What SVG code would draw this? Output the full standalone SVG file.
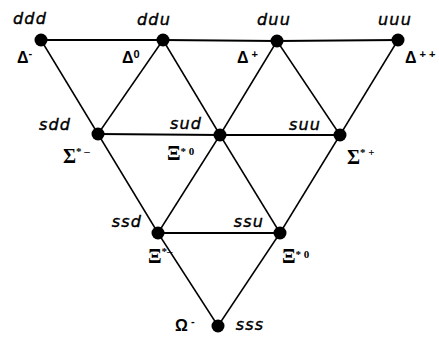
<svg xmlns="http://www.w3.org/2000/svg" width="439" height="343" viewBox="0 0 439 343">
<style>
.q{font-family:"DejaVu Sans",sans-serif;font-style:italic;font-size:16px;letter-spacing:1.2px;fill:#000;stroke:#000;stroke-width:0.4}
.g{font-family:"Liberation Sans",sans-serif;font-weight:bold;font-size:16px;fill:#000}
.s{font-family:"Liberation Serif",serif;font-weight:bold;font-size:20px;fill:#000}
.sup{font-size:11px}
.h{stroke:#000;stroke-width:2.2;fill:none}
.d{stroke:#000;stroke-width:1.5;fill:none}
.dot{fill:#000}
</style>
<rect width="439" height="343" fill="#fff"/>
<g id="connectors">
<line class="h" x1="41" y1="40" x2="163" y2="40"/>
<line class="h" x1="163" y1="40" x2="277" y2="41"/>
<line class="h" x1="277" y1="41" x2="398" y2="40"/>
<line class="h" x1="98" y1="134" x2="220" y2="135"/>
<line class="h" x1="220" y1="135" x2="340" y2="135"/>
<line class="h" x1="158" y1="233" x2="280" y2="233"/>
<line class="d" x1="41" y1="40" x2="98" y2="134"/>
<line class="d" x1="98" y1="134" x2="158" y2="233"/>
<line class="d" x1="158" y1="233" x2="218" y2="326"/>
<line class="d" x1="398" y1="40" x2="340" y2="135"/>
<line class="d" x1="340" y1="135" x2="280" y2="233"/>
<line class="d" x1="280" y1="233" x2="218" y2="326"/>
<line class="d" x1="163" y1="40" x2="98" y2="134"/>
<line class="d" x1="163" y1="40" x2="220" y2="135"/>
<line class="d" x1="220" y1="135" x2="280" y2="233"/>
<line class="d" x1="277" y1="41" x2="220" y2="135"/>
<line class="d" x1="220" y1="135" x2="158" y2="233"/>
<line class="d" x1="277" y1="41" x2="340" y2="135"/>
</g>
<g id="ddd"><circle class="dot" cx="41" cy="40" r="6.5"/><text class="q" x="30" y="24" text-anchor="middle">ddd</text><text class="g" x="17" y="63">Δ<tspan class="sup" dy="-6">-</tspan></text></g>
<g id="ddu"><circle class="dot" cx="163" cy="40" r="6.5"/><text class="q" x="154" y="25" text-anchor="middle">ddu</text><text class="g" x="122" y="63">Δ<tspan class="sup" dy="-5">0</tspan></text></g>
<g id="duu"><circle class="dot" cx="277" cy="41" r="6.5"/><text class="q" x="274" y="25" text-anchor="middle">duu</text><text class="g" x="237" y="63">Δ<tspan class="sup" dy="-5"> +</tspan></text></g>
<g id="uuu"><circle class="dot" cx="398" cy="40" r="6.5"/><text class="q" x="395" y="25" text-anchor="middle">uuu</text><text class="g" x="405" y="63">Δ<tspan class="sup" dy="-5"> + +</tspan></text></g>
<g id="sdd"><circle class="dot" cx="98" cy="134" r="6.5"/><text class="q" x="55" y="130" text-anchor="middle">sdd</text><text class="s" x="63" y="163">Σ<tspan class="sup" dy="-8">* –</tspan></text></g>
<g id="sud"><circle class="dot" cx="220" cy="135" r="6.5"/><text class="q" x="186" y="129" text-anchor="middle">sud</text><text class="s" x="167" y="160">Ξ<tspan class="sup" dy="-5">* 0</tspan></text></g>
<g id="suu"><circle class="dot" cx="340" cy="135" r="6.5"/><text class="q" x="305" y="130" text-anchor="middle">suu</text><text class="s" x="347" y="164">Σ<tspan class="sup" dy="-8">* +</tspan></text></g>
<g id="ssd"><circle class="dot" cx="158" cy="233" r="6.5"/><text class="q" x="127" y="227" text-anchor="middle">ssd</text><text class="s" x="148" y="263">Ξ<tspan class="sup" dy="-8">*–</tspan></text></g>
<g id="ssu"><circle class="dot" cx="280" cy="233" r="6.5"/><text class="q" x="249" y="227" text-anchor="middle">ssu</text><text class="s" x="282" y="263">Ξ<tspan class="sup" dy="-5">* 0</tspan></text></g>
<g id="sss"><circle class="dot" cx="218" cy="326" r="6.5"/><text class="q" x="250" y="330" text-anchor="middle">sss</text><text class="g" x="175" y="331">Ω<tspan class="sup" dy="-6"> -</tspan></text></g>
</svg>
